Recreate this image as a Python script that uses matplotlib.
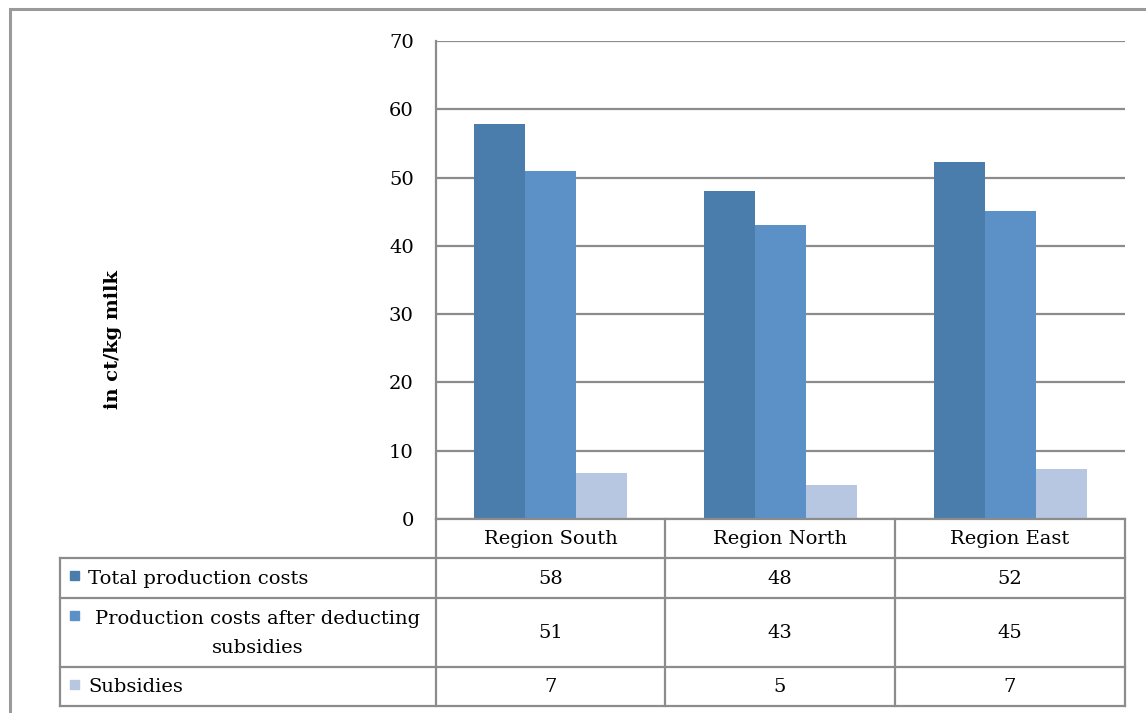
import matplotlib
matplotlib.use("Agg")
import matplotlib.pyplot as plt
from matplotlib.lines import Line2D
from matplotlib.patches import Rectangle
import numpy as np

categories = ["Region South", "Region North", "Region East"]
series_names = ["Total production costs",
                "Production costs after deducting\nsubsidies",
                "Subsidies"]
total_costs = [57.8, 48.0, 52.3]
costs_after_subsidies = [51.0, 43.0, 45.1]
subsidies = [6.7, 5.0, 7.3]
table_total = [58, 48, 52]
table_after = [51, 43, 45]
table_subsidies = [7, 5, 7]
y_ticks = [0, 10, 20, 30, 40, 50, 60, 70]
y_label = "in ct/kg milk"

colors = ["#4A7DAB", "#5B91C6", "#B7C7E1"]
grid_col = "#8C8C8C"
W, H = 1146, 713
plt.rcParams['font.family'] = ['DejaVu Serif']
FS = 14

fig = plt.figure(figsize=(W / 100, H / 100), dpi=100)

def fx(px):
    return px / W

def fy(py):
    return 1 - py / H

ax_l, ax_r, ax_t, ax_b = 436, 1125, 41, 519
ax = fig.add_axes([fx(ax_l), fy(ax_b), fx(ax_r - ax_l), (ax_b - ax_t) / H])
x = np.arange(len(categories)) + 0.5
bw = 51 / 229.5
series = [total_costs, costs_after_subsidies, subsidies]
for i, vals in enumerate(series):
    ax.bar(x + (i - 1) * bw, vals, width=bw, color=colors[i], zorder=3)
ax.set_xlim(0, 3)
ax.set_ylim(0, 70)
ax.set_yticks(y_ticks)
ax.set_yticklabels([str(t) for t in y_ticks], fontsize=FS)
ax.tick_params(axis='y', length=0, pad=16)
ax.set_xticks([])
ax.grid(axis='y', color=grid_col, linewidth=1.6, zorder=0)
for s in ['top', 'right', 'bottom']:
    ax.spines[s].set_visible(False)
ax.spines['left'].set_color(grid_col)
ax.spines['left'].set_linewidth(1.6)

fig.text(fx(113), fy(340), y_label, rotation=90, ha='center', va='center',
         fontsize=FS, fontweight='bold')

# outer border
fig.patches.append(Rectangle((fx(10), fy(760)), fx(1200), (760 - 9) / H,
                             transform=fig.transFigure, fill=False,
                             edgecolor="#9A9A9A", linewidth=2.2))

# table lines
def hline(y, x0, x1):
    fig.add_artist(Line2D([fx(x0), fx(x1)], [fy(y), fy(y)], color=grid_col,
                          linewidth=1.6, transform=fig.transFigure))

def vline(x0, y0, y1):
    fig.add_artist(Line2D([fx(x0), fx(x0)], [fy(y0), fy(y1)], color=grid_col,
                          linewidth=1.6, transform=fig.transFigure))

col_x = [436, 665, 895, 1125]
row_y = [519, 558, 598, 667, 706]
hline(519, 436, 1125)
for y in row_y[1:]:
    hline(y, 60, 1125)
for cx in col_x:
    vline(cx, 519, 706)
vline(60, 558, 706)

col_centers = [(col_x[i] + col_x[i + 1]) / 2 for i in range(3)]
for i, c in enumerate(categories):
    fig.text(fx(col_centers[i]), fy((row_y[0] + row_y[1]) / 2 + 1), c,
             ha='center', va='center', fontsize=FS)

table_vals = [table_total, table_after, table_subsidies]
for r in range(3):
    yc = (row_y[r + 1] + row_y[r + 2]) / 2 + 1
    for i in range(3):
        fig.text(fx(col_centers[i]), fy(yc), str(table_vals[r][i]),
                 ha='center', va='center', fontsize=FS)
    # legend key
    key_y = row_y[r + 1] + 13
    fig.patches.append(Rectangle((fx(70), fy(key_y + 9)), fx(9), 9 / H,
                                 transform=fig.transFigure, color=colors[r]))
    if r == 1:
        fig.text(fx(258), fy(yc), series_names[r], ha='center', va='center',
                 fontsize=FS, multialignment='center', linespacing=1.75)
    else:
        fig.text(fx(88), fy(yc), series_names[r], ha='left', va='center',
                 fontsize=FS)

fig.savefig("out.png", dpi=100)
